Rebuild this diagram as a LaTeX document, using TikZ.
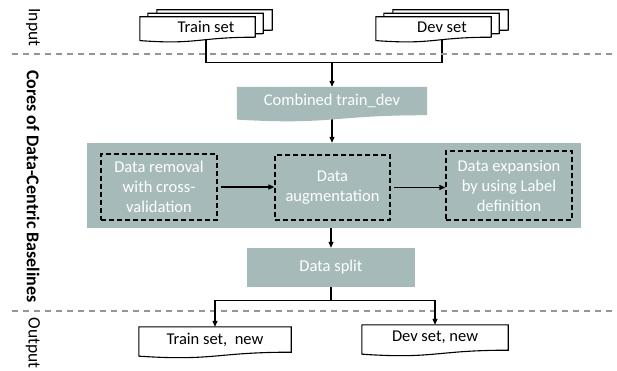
\documentclass[tikz,border=0pt]{standalone}
\usepackage{fontspec}
\setmainfont{Carlito}
\usetikzlibrary{arrows.meta, positioning, calc, backgrounds}
\definecolor{coregray}{RGB}{166,186,186}
\definecolor{sepgray}{RGB}{150,150,150}

% document outline with wavy bottom: node, path options, right trim, wave depth, x shift, y shift
\newcommand{\docoutline}[6]{%
  \path[#2] ([xshift=#5,yshift=#6]#1.north west)
    -- ([xshift=#5-#3,yshift=#6]#1.north east)
    -- ([xshift=#5-#3,yshift=#6]#1.south east)
    .. controls ([xshift=#5-#3/2,yshift=#6]#1.south)
    and ([xshift=#5-#3/2,yshift=#6-#4]#1.south)
    .. ([xshift=#5,yshift=#6-0.44*#4]#1.south west) -- cycle;}

\begin{document}
\begin{tikzpicture}[x=1pt, y=-1pt,
	>={Triangle[length=6pt, width=5pt]},
	every node/.style={font=\fontsize{16.5}{20}\selectfont},
	DocNode/.style={rectangle, inner sep=0pt, minimum height=20pt, text centered},
	CoreNode/.style={rectangle, fill=coregray, text=white, inner sep=0pt},
	StepNode/.style={rectangle, draw, dash pattern=on 5pt off 3pt, line width=1.2pt, text=white,
		inner sep=0pt, align=center, minimum height=66pt},
	SideLabel/.style={rotate=-90, font=\fontsize{17.5}{20}\selectfont},
	SepLine/.style={sepgray, line width=1.4pt, dash pattern=on 6pt off 5pt},
	Link/.style={line width=1.2pt},
	DocLine/.style={draw, fill=white, line width=1.1pt}
	]
\useasboundingbox (0,0) rectangle (617,371);

% side labels and separators
\node [SideLabel] (inlabel) at (33,27.5) {Input};
\node [SideLabel, font=\bfseries\fontsize{18}{20}\selectfont] (corelabel) at (33,186.5) {Cores of Data-Centric Baselines};
\node [SideLabel] (outlabel) at (33,343) {Output};
\coordinate (sepAleft) at (12,54);
\coordinate (sepAright) at (617,54);
\coordinate (sepBleft) at (12,311);
\coordinate (sepBright) at (617,311);
\draw [SepLine] (sepAleft) -- (sepAright);
\draw [SepLine] (sepBleft) -- (sepBright);

% input
\node [DocNode, minimum width=132pt] (train) at (206,27) {Train set};
\node [DocNode, minimum width=132pt] (dev) at (442,27) {Dev set};

% cores
\node [DocNode, minimum width=190pt, minimum height=28pt, text=white] (combined) at (332,101) {Combined train\_dev};
\node [CoreNode, minimum width=494pt, minimum height=85pt] (cores) at (334,185.5) {};
\node [StepNode, minimum width=116pt] (removal) at (159,187) {Data removal\\with cross-\\validation};
\node [StepNode, minimum width=115pt, minimum height=65pt] (augment) at (332.5,187.5) {Data\\augmentation};
\node [StepNode, minimum width=126pt, minimum height=69pt] (expand) at (509,185.5) {Data expansion\\by using Label\\definition};
\node [CoreNode, minimum width=168pt, minimum height=39pt] (split) at (331,267.5) {Data split};

% output
\node [DocNode, minimum width=152pt, minimum height=25pt] (trainnew) at (215,339.5) {Train set,\ \ new};
\node [DocNode, minimum width=146pt, minimum height=25pt] (devnew) at (435,337.5) {Dev set, new};

\coordinate (join) at ($(combined.north)+(0,-24)$);
\coordinate (fork) at ($(split.south)+(0,13)$);

\begin{scope}[on background layer]
\draw [Link] (train.south) |- (join) -| (dev.south);
\draw [Link, ->] (join) -- (combined);
\draw [Link, ->] (combined) -- (combined |- cores.north);
% document shapes
\docoutline{train}{DocLine}{17pt}{7.7pt}{17pt}{7pt}
\docoutline{train}{DocLine}{17pt}{7.7pt}{8pt}{3.5pt}
\docoutline{train}{DocLine}{17pt}{7.7pt}{0pt}{0pt}
\docoutline{dev}{DocLine}{17pt}{7.7pt}{17pt}{7pt}
\docoutline{dev}{DocLine}{17pt}{7.7pt}{8pt}{3.5pt}
\docoutline{dev}{DocLine}{17pt}{7.7pt}{0pt}{0pt}
\docoutline{combined}{fill=coregray}{0pt}{10pt}{0pt}{0pt}
\docoutline{trainnew}{DocLine}{0pt}{9pt}{0pt}{0pt}
\docoutline{devnew}{DocLine}{0pt}{9pt}{0pt}{0pt}
\end{scope}

\draw [Link, ->, shorten <=3pt] (removal.east) -- (removal.east -| augment.west);
\draw [Link, ->, shorten <=3pt] (augment.east) -- (augment.east -| expand.west);
\draw [Link, ->] (split.north |- cores.south) -- (split.north);
\draw [Link] (split) -- (fork);
\draw [Link, ->] (fork) -| (trainnew);
\draw [Link, ->] (fork) -| (devnew);

\end{tikzpicture}
\end{document}
